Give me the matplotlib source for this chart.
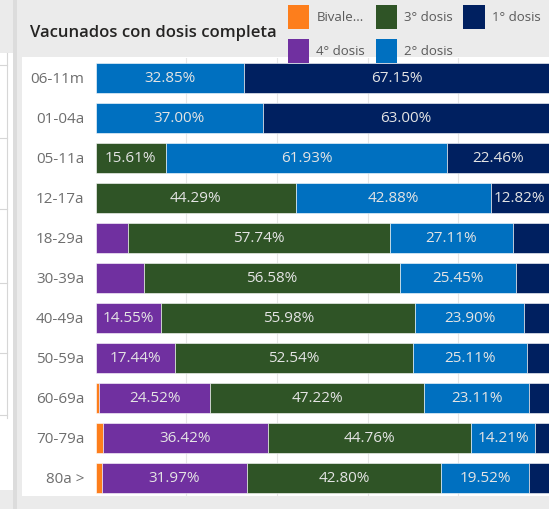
import matplotlib
matplotlib.use("Agg")
import matplotlib.pyplot as plt
from matplotlib.patches import Patch, Rectangle
from matplotlib.lines import Line2D
import numpy as np

plt.rcParams["font.family"] = ["Open Sans", "DejaVu Sans"]

W, H = 549, 509

# data (percent per age group)
groups = ["06-11m", "01-04a", "05-11a", "12-17a", "18-29a", "30-39a",
          "40-49a", "50-59a", "60-69a", "70-79a", "80a >"]
bivalente = [0.0, 0.0, 0.0, 0.0, 0.0, 0.0, 0.0, 0.0, 0.75, 1.6, 1.4]
dosis4 = [0.0, 0.0, 0.0, 0.0, 7.15, 10.66, 14.55, 17.44, 24.52, 36.42, 31.97]
dosis3 = [0.0, 0.0, 15.61, 44.29, 57.74, 56.58, 55.98, 52.54, 47.22, 44.76, 42.80]
dosis2 = [32.85, 37.00, 61.93, 42.88, 27.11, 25.45, 23.90, 25.11, 23.11, 14.21, 19.52]
dosis1 = [67.15, 63.00, 22.46, 12.82, 8.00, 7.31, 5.57, 4.91, 4.40, 3.01, 4.31]

series_names = ["Bivale...", "4° dosis", "3° dosis", "2° dosis", "1° dosis"]
series_vals = [bivalente, dosis4, dosis3, dosis2, dosis1]
colors = ["#fd7e1c", "#7030a0", "#2f5426", "#0070c0", "#002060"]


def px(x0, y0, x1, y1):
    # pixel box (top-left origin) -> figure fraction rect
    return (x0 / W, 1 - y1 / H, (x1 - x0) / W, (y1 - y0) / H)


fig = plt.figure(figsize=(W / 100, H / 100), dpi=100, facecolor="#ebebeb")


def frect(x0, y0, x1, y1, color, z=0):
    l, b, w, h = px(x0, y0, x1, y1)
    fig.patches.append(Rectangle((l, b), w, h, transform=fig.transFigure,
                                 facecolor=color, edgecolor="none", zorder=z))


# background panels
frect(0, 0, 13, H, "#ebebeb")
frect(0, 53, 13, 490, "#ffffff", 1)
frect(13, 0, 17, H, "#dcdcdc", 1)
frect(22, 57, W, 496, "#ffffff", 1)
for yy in [65, 138, 209, 283, 353, 415]:
    fig.lines.append(Line2D([0, 7 / W], [1 - yy / H] * 2, transform=fig.transFigure,
                            color="#d6d6d6", lw=0.8, zorder=2))
fig.lines.append(Line2D([7 / W] * 2, [1 - 53 / H, 1 - 418 / H], transform=fig.transFigure,
                        color="#d6d6d6", lw=0.8, zorder=2))

ax = fig.add_axes([95.5 / W, 1 - 496 / H, (W - 95.5) / W, (496 - 58) / H])
ax.set_facecolor("white")
ax.set_zorder(3)

y = np.arange(len(groups))
left = np.zeros(len(groups))
for name, vals, col in zip(series_names, series_vals, colors):
    v = np.array(vals) / 100.0
    ax.barh(y, v, left=left, height=0.75, color=col, edgecolor="white",
            linewidth=0.4, zorder=2, label=name)
    for yi, (l0, w0) in enumerate(zip(left, v)):
        if w0 >= 0.12:
            ax.text(l0 + w0 / 2, yi + 0.02, f"{w0 * 100:.2f}%", ha="center", va="center",
                    color="#e4e4e4", fontsize=11, zorder=4)
    left = left + v

ax.set_xlim(0, 1)
ax.set_ylim(10.45, -0.4875)
ax.set_yticks(y)
ax.set_yticklabels(groups, fontsize=11, color="#6e6e6e")
ax.tick_params(axis="y", length=0, pad=8)
ax.set_xticks([0.2, 0.4, 0.6, 0.8])
ax.tick_params(axis="x", length=0, labelbottom=False)
ax.grid(axis="x", color="#e6e6e6", lw=0.8, zorder=0)
ax.set_axisbelow(True)
for s in ax.spines.values():
    s.set_visible(False)

fig.text(30 / W, 1 - 33 / H, "Vacunados con dosis completa", fontsize=12,
         fontweight="semibold", color="#252423", ha="left", va="center", zorder=5)

handles = [Patch(facecolor=c, edgecolor="none") for c in colors]
leg = fig.legend(handles, series_names, ncol=3, loc="upper left",
                 bbox_to_anchor=(288 / W, 1 - 5 / H), frameon=False,
                 fontsize=9.5, handlelength=1.6, handleheight=2.42,
                 handletextpad=0.55, columnspacing=0.8, labelspacing=0.75,
                 borderpad=0, borderaxespad=0)
for t in leg.get_texts():
    t.set_color("#5a5a5a")
leg.set_zorder(6)

fig.savefig("out.png", dpi=100, facecolor=fig.get_facecolor())
